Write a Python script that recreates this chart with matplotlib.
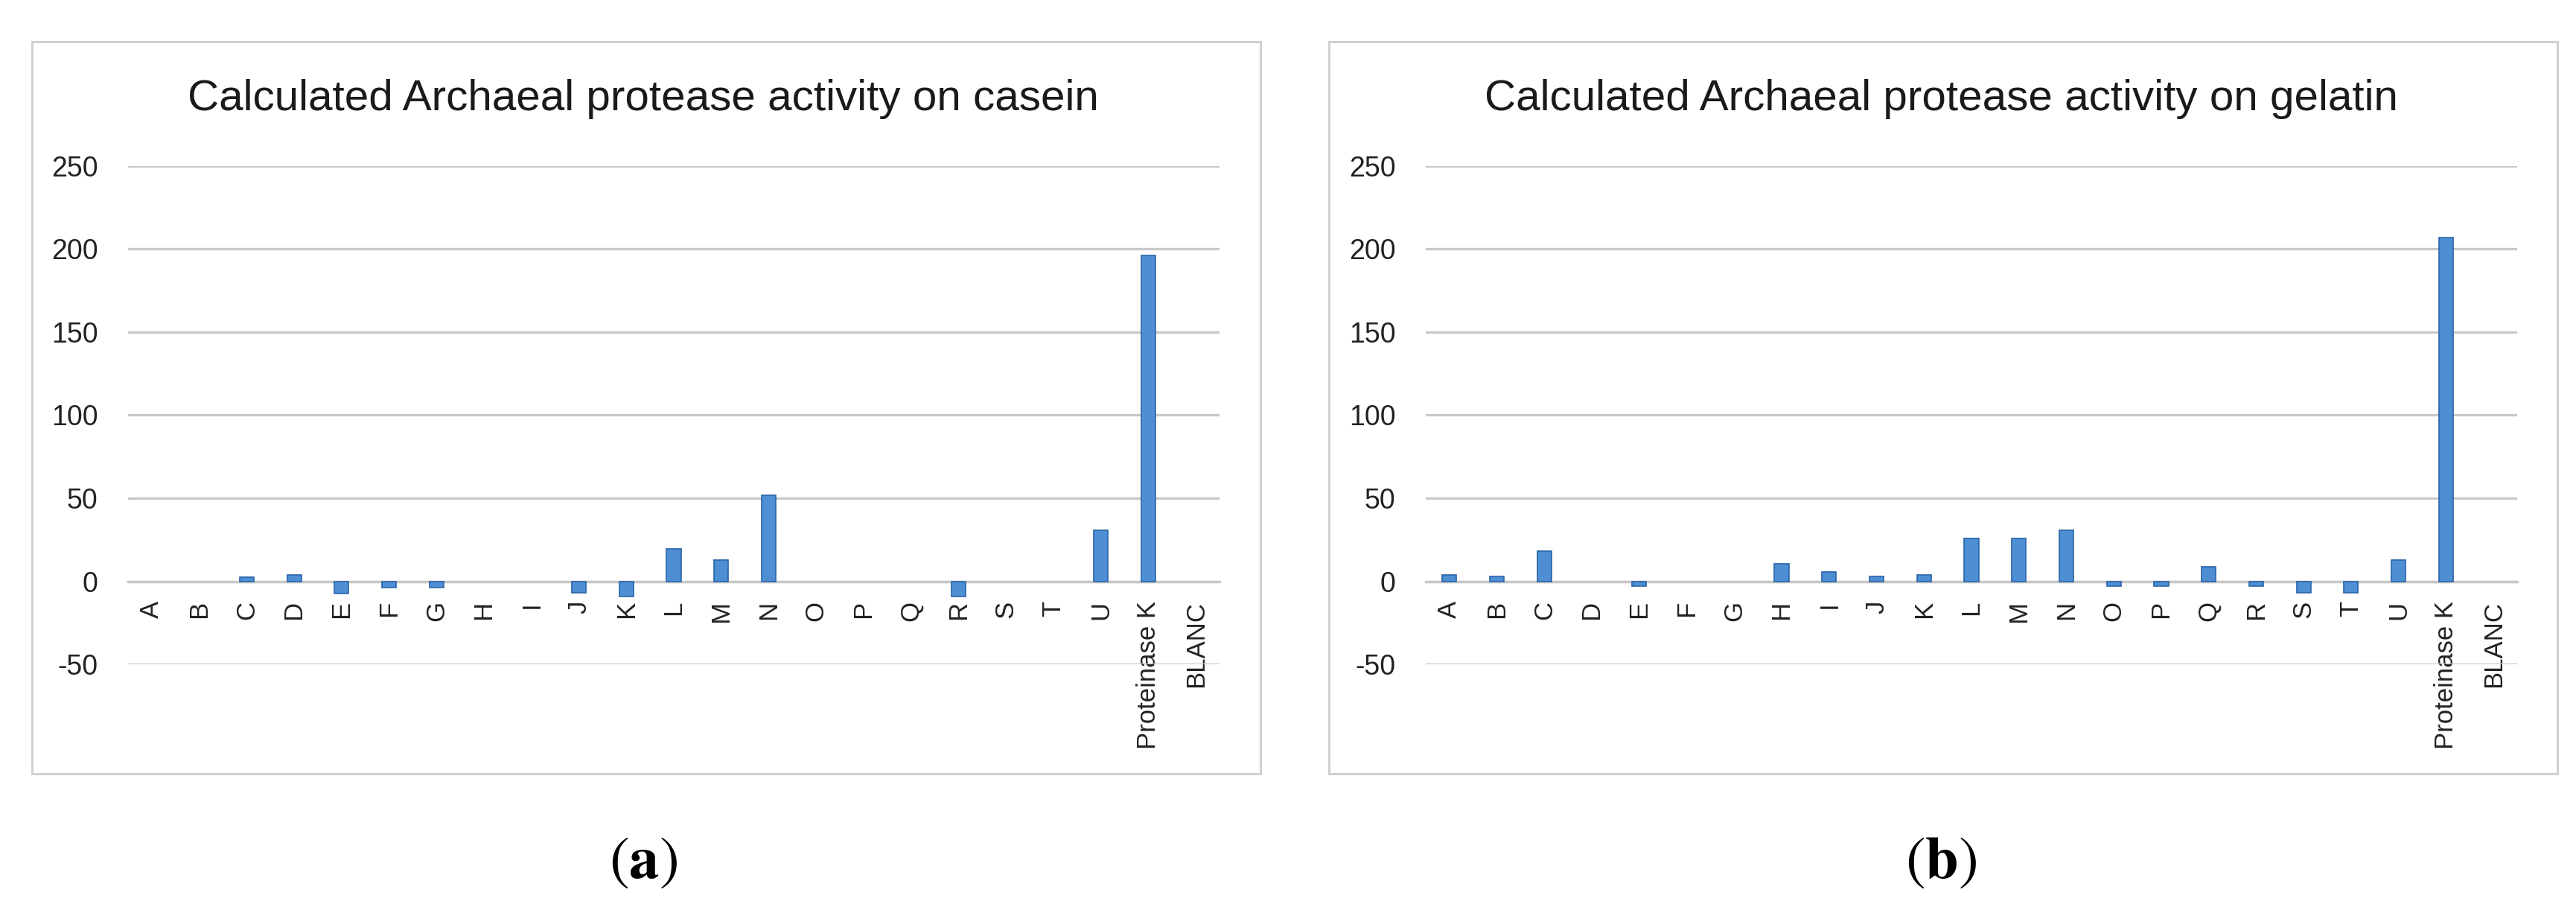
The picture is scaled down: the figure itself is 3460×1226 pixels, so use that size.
import numpy as np
import matplotlib
matplotlib.use('Agg')
import matplotlib.pyplot as plt
from matplotlib.patches import Rectangle

# category names and values
categories = list("ABCDEFGHIJKLMNOPQRSTU") + ["Proteinase K", "BLANC"]
casein = [0, 0, 2.5, 4, -7.5, -4, -4, 0, 0, -7, -9, 19.5, 13, 52,
          0, 0, 0, -9, 0, 0, 30.5, 196, 0]
gelatin = [4, 2.7, 18, 0, -2.7, 0, 0, 10.5, 5.7, 2.9, 4, 26, 26, 30.5,
           -2.7, -2.7, 8.7, -2.7, -7, -7, 13, 207, 0]
titles = ["Calculated Archaeal protease activity on casein",
          "Calculated Archaeal protease activity on gelatin"]
captions = [r"$(\mathbf{a})$", r"$(\mathbf{b})$"]
yticks = [-50, 0, 50, 100, 150, 200, 250]

plt.rcParams['font.family'] = ['Liberation Sans', 'DejaVu Sans']
plt.rcParams['mathtext.fontset'] = 'stix'
plt.rcParams['axes.unicode_minus'] = False

fig = plt.figure(figsize=(34.6, 12.26), dpi=100)

ax_left = [0.04971, 0.55347]
box_left = [0.01243, 0.51590]
title_x = [0.2497, 0.7535]

x = np.arange(len(categories))

for i, vals in enumerate([casein, gelatin]):
    # light grey frame round each chart
    fig.patches.append(Rectangle((box_left[i], 0.15253), 0.47688, 0.80179,
                                 transform=fig.transFigure, fill=False,
                                 edgecolor='#d0d0d0', lw=2.2))

    ax = fig.add_axes([ax_left[i], 0.27243, 0.42370, 0.54568])
    # zero bars get no outline so nothing shows for them
    lws = [1.2 if v != 0 else 0 for v in vals]
    ax.bar(x, vals, width=0.3, color='#4e8fd4', edgecolor='#2a64a8',
           linewidth=lws, zorder=3)

    ax.set_xlim(-0.5, len(categories) - 0.5)
    ax.set_ylim(-50, 250)
    ax.tick_params(axis='y', length=0, pad=29, labelsize=27, labelcolor='#222222')
    ax.tick_params(axis='x', length=0, pad=19, labelsize=25, labelcolor='#222222',
                   labelrotation=90)
    ax.set_yticks(yticks)
    ax.set_xticks(x)
    ax.set_xticklabels(categories)

    ax.yaxis.grid(True, color='#c8c8c8', linewidth=2.4)
    ax.set_axisbelow(True)
    for s in ['top', 'right', 'left']:
        ax.spines[s].set_visible(False)
    # category axis sits on the zero line
    ax.spines['bottom'].set_position(('data', 0))
    ax.spines['bottom'].set_color('#c8c8c8')
    ax.spines['bottom'].set_linewidth(2.4)
    ax.spines['bottom'].set_zorder(2)

    fig.text(title_x[i], 0.8793, titles[i], ha='center', va='baseline',
             fontsize=42, color='#1a1a1a')
    fig.text(title_x[i], 0.0555, captions[i], ha='center', va='center',
             fontsize=58, color='black')

fig.savefig('out.png', dpi=100)
